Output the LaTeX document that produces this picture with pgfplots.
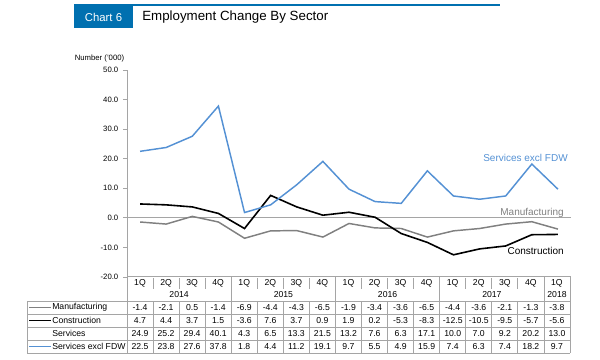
\documentclass[border=0pt]{standalone}
\usepackage{pgfplots}
\usepackage{pgfplotstable}
\pgfplotsset{compat=1.18}
\usepackage{fontspec}
\setmainfont{Liberation Sans}
\definecolor{chartblue}{RGB}{0,112,176}
\definecolor{sfdw}{RGB}{84,145,212}
\definecolor{mangray}{RGB}{128,128,128}
\definecolor{gridg}{RGB}{165,165,165}

\pgfplotstableread{
x man con ser sfdw
0 -1.4 4.7 24.9 22.5
1 -2.1 4.4 25.2 23.8
2 0.5 3.7 29.4 27.6
3 -1.4 1.5 40.1 37.8
4 -6.9 -3.6 4.3 1.8
5 -4.4 7.6 6.5 4.4
6 -4.3 3.7 13.3 11.2
7 -6.5 0.9 21.5 19.1
8 -1.9 1.9 13.2 9.7
9 -3.4 0.2 7.6 5.5
10 -3.6 -5.3 6.3 4.9
11 -6.5 -8.3 17.1 15.9
12 -4.4 -12.5 10.0 7.4
13 -3.6 -10.5 7.0 6.3
14 -2.1 -9.5 9.2 7.4
15 -1.3 -5.7 20.2 18.2
16 -3.8 -5.6 13.0 9.7
}\datatab

\begin{document}
\begin{tikzpicture}
\begin{scope}[x=0.75pt,y=-0.75pt]
\useasboundingbox (0,0) rectangle (600,360);
% header
\draw[chartblue, line width=1.5pt] (74,5) -- (500,5);
\fill[chartblue] (74,5) rectangle (133,28);
\node[white, font=\fontsize{8.5}{10}\selectfont] at (103.5,17) {Chart 6};
\node[anchor=west, font=\fontsize{10}{12}\selectfont, inner sep=0pt] at (142,17.5) {Employment Change By Sector};
\node[anchor=east, font=\fontsize{5.8}{7}\selectfont, inner sep=0pt] at (124.5,58.5) {Number ('000)};
\end{scope}

\begin{axis}[
  at={(95.25pt,-207.75pt)}, anchor=south west,
  scale only axis, width=333pt, height=155.25pt,
  xmin=-0.5, xmax=16.5, ymin=-20, ymax=50,
  axis lines=left, axis line style={-},
  x axis line style={draw=none},
  y axis line style={gridg, line width=0.6pt},
  xtick=\empty,
  ytick={-20,-10,...,50},
  tick align=outside, major tick length=3pt,
  ytick style={gridg, line width=0.6pt},
  yticklabel style={font=\fontsize{5.8}{7}\selectfont, /pgf/number format/.cd, fixed, fixed zerofill, precision=1, assume math mode=true},
  clip=false,
]
\draw[gridg, line width=0.8pt] (axis cs:-0.5,0) -- (axis cs:16.5,0);
\addplot[mangray, line width=1.1pt, mark=none] table[x=x, y=man] {\datatab};
\addplot[black, line width=1.2pt, mark=none] table[x=x, y=con] {\datatab};
\addplot[sfdw, line width=1.1pt, mark=none] table[x=x, y=sfdw] {\datatab};
\end{axis}

\begin{scope}[x=0.75pt,y=-0.75pt]
\def\cw{26.0588}
% line labels
\node[anchor=east, text=sfdw, font=\fontsize{7.5}{9}\selectfont, inner sep=0pt] at (568,158) {Services excl FDW};
\node[anchor=east, text=mangray, font=\fontsize{7.5}{9}\selectfont, inner sep=0pt] at (564,212.5) {Manufacturing};
\node[anchor=east, text=black, font=\fontsize{7.5}{9}\selectfont, inner sep=0pt] at (564,250.5) {Construction};
% table grid
\begin{scope}[gridg, line width=0.6pt]
\draw (127,276) -- (570,276);
\foreach \yy in {301,314,327,340,353} \draw (27,\yy) -- (570,\yy);
\draw (27,301) -- (27,353);
\draw (127,276) -- (127,353);
\draw (570,276) -- (570,353);
\foreach \i in {1,...,16} {
  \pgfmathsetmacro{\xx}{127+\i*\cw}
  \pgfmathtruncatemacro{\r}{mod(\i,4)}
  \ifnum\r=0
    \draw (\xx,276) -- (\xx,353);
  \else
    \draw (\xx,278) -- (\xx,289);
    \draw (\xx,301) -- (\xx,353);
  \fi
}
\end{scope}
% header labels
\begin{scope}[font=\fontsize{6.5}{8}\selectfont]
\foreach \i in {0,...,16} {
  \pgfmathsetmacro{\xx}{140+\i*\cw}
  \pgfmathtruncatemacro{\q}{mod(\i,4)+1}
  \node at (\xx,283.5) {\q Q};
}
\node at (179.1,295) {2014};
\node at (283.4,295) {2015};
\node at (387.6,295) {2016};
\node at (491.9,295) {2017};
\node at (557,295) {2018};
% row labels
\draw[mangray, line width=1.1pt] (29,307.5) -- (51,307.5);
\draw[black, line width=1.2pt] (29,320.5) -- (51,320.5);
\draw[sfdw, line width=1.2pt] (29,346.5) -- (51,346.5);
\node[anchor=west, inner sep=0pt] at (52,307.5) {Manufacturing};
\node[anchor=west, inner sep=0pt] at (52,320.5) {Construction};
\node[anchor=west, inner sep=0pt] at (52,333.5) {Services};
\node[anchor=west, inner sep=0pt] at (52,346.5) {Services excl FDW};
% values
\foreach \i in {0,...,16} {
  \pgfmathsetmacro{\xx}{140+\i*\cw}
  \pgfplotstablegetelem{\i}{man}\of\datatab \let\va\pgfplotsretval
  \node at (\xx,307.5) {\va};
  \pgfplotstablegetelem{\i}{con}\of\datatab \let\vb\pgfplotsretval
  \node at (\xx,320.5) {\vb};
  \pgfplotstablegetelem{\i}{ser}\of\datatab \let\vc\pgfplotsretval
  \node at (\xx,333.5) {\vc};
  \pgfplotstablegetelem{\i}{sfdw}\of\datatab \let\vd\pgfplotsretval
  \node at (\xx,346.5) {\vd};
}
\end{scope}
\end{scope}
\end{tikzpicture}
\end{document}
